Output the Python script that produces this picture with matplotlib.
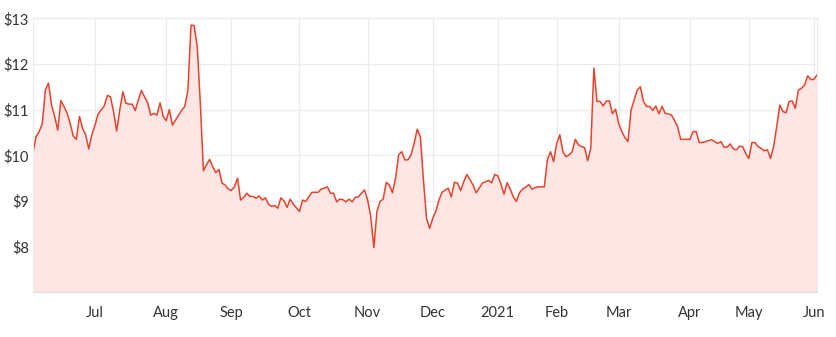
import numpy as np
import pandas as pd
import matplotlib
matplotlib.use("Agg")
import matplotlib.pyplot as plt

# daily closing prices, one per trading day from 2 Jun 2020
prices_h2_2020 = [
    10.06, 10.41, 10.52, 10.69, 11.43, 11.58, 11.1, 10.85, 10.55, 11.2,
    11.07, 10.92, 10.7, 10.42, 10.35, 10.85, 10.59, 10.45, 10.14, 10.45,
    10.66, 10.9, 10.99, 11.08, 11.31, 11.28, 10.96, 10.53, 10.99, 11.39,
    11.14, 11.12, 11.12, 10.98, 11.21, 11.42, 11.28, 11.15, 10.88, 10.92,
    10.88, 11.15, 10.85, 10.76, 11.0, 10.66, 10.77, 10.88, 10.99, 11.07,
    11.43, 12.85, 12.84, 12.38, 11.14, 9.66, 9.79, 9.91, 9.75, 9.62,
    9.69, 9.39, 9.35, 9.26, 9.23, 9.31, 9.5, 9.02, 9.08, 9.17,
    9.1, 9.1, 9.06, 9.11, 9.02, 9.07, 8.93, 8.88, 8.9, 8.84,
]
prices_autumn = [
    9.07, 9.0, 8.86, 9.04, 8.93, 8.85, 8.77, 9.02, 8.99, 9.09,
    9.19, 9.19, 9.19, 9.26, 9.28, 9.31, 9.17, 9.17, 8.98, 9.04,
    9.03, 8.98, 9.04, 8.98, 9.08, 9.09, 9.17, 9.24, 9.02, 8.66,
    7.98, 8.77, 8.99, 9.04, 9.41, 9.35, 9.18, 9.5, 10.01, 10.08,
    9.9, 9.9, 10.01, 10.26, 10.57, 10.41, 9.46, 8.62, 8.4, 8.62,
    8.77, 9.02, 9.19, 9.24, 9.28, 9.09, 9.41, 9.39, 9.23, 9.42,
    9.58, 9.47, 9.35, 9.18, 9.28, 9.39, 9.42, 9.45, 9.4, 9.58,
    9.55, 9.37, 9.15, 9.4, 9.26, 9.09, 8.99, 9.18, 9.26, 9.3,
    9.36, 9.26, 9.29, 9.31, 9.31, 9.31,
]
prices_2021 = [
    9.9, 10.08, 9.86, 10.26, 10.45, 10.08, 9.97, 10.01, 10.08, 10.35,
    10.23, 10.19, 10.17, 9.88, 10.15, 11.91, 11.18, 11.18, 11.08, 11.19,
    11.19, 10.91, 11.01, 10.7, 10.52, 10.39, 10.3, 10.99, 11.21, 11.43,
    11.5, 11.18, 11.07, 11.07, 10.98, 11.08, 10.91, 11.07, 10.92, 10.91,
    10.88, 10.77, 10.63, 10.35, 10.35, 10.35, 10.35, 10.52, 10.52, 10.28,
    10.28, 10.3, 10.32, 10.34, 10.3, 10.26, 10.3, 10.18, 10.18, 10.25,
    10.14, 10.12, 10.2, 10.19, 10.04, 9.93, 10.28, 10.28, 10.19, 10.15,
    10.1, 10.12, 9.93, 10.19, 10.63, 11.1, 10.96, 10.93, 11.18, 11.19,
    11.03, 11.43, 11.47, 11.54, 11.74, 11.66, 11.66, 11.76,
]
prices = np.array(prices_h2_2020 + prices_autumn + prices_2021)

asx_holidays = ["2020-06-08", "2020-12-25", "2020-12-28", "2021-01-01",
                "2021-01-26", "2021-04-02", "2021-04-05", "2021-04-26"]
dates = pd.bdate_range("2020-06-02", periods=len(prices), freq="C",
                       holidays=asx_holidays)

y_ticks = [8, 9, 10, 11, 12, 13]

# month ticks at the first trading day of each month
x = np.arange(len(prices))
month_start = np.where(dates.month[1:] != dates.month[:-1])[0] + 1
tick_labels = [d.strftime("%Y") if d.month == 1 else d.strftime("%b")
               for d in dates[month_start]]

line_color = "#e5432d"
grid_color = "#ebebeb"

plt.rcParams["font.family"] = ["Lato", "DejaVu Sans"]

fig = plt.figure(figsize=(8.37, 3.37), dpi=100)
ax = fig.add_axes([0.0394, 0.1326, 0.9367, 0.8131])

ax.fill_between(x, prices, 7, color="#fde6e3", lw=0)
ax.plot(x, prices, color=line_color, lw=1.1)

ax.set_xlim(0, len(prices) - 1)
ax.set_ylim(7, 13)
ax.set_xticks(month_start)
ax.set_xticklabels(tick_labels)
ax.set_yticks(y_ticks)
ax.set_yticklabels(["$%d" % v for v in y_ticks])

ax.grid(True, color=grid_color, lw=0.9)
ax.set_axisbelow(True)
for side in ["top", "right", "left"]:
    ax.spines[side].set_color(grid_color)
ax.spines["bottom"].set_color("#dcdcdc")
ax.tick_params(length=0, labelsize=10.5, labelcolor="#333333")
ax.tick_params(axis="x", pad=10)
ax.tick_params(axis="y", pad=3)

fig.savefig("out.png", dpi=100)
